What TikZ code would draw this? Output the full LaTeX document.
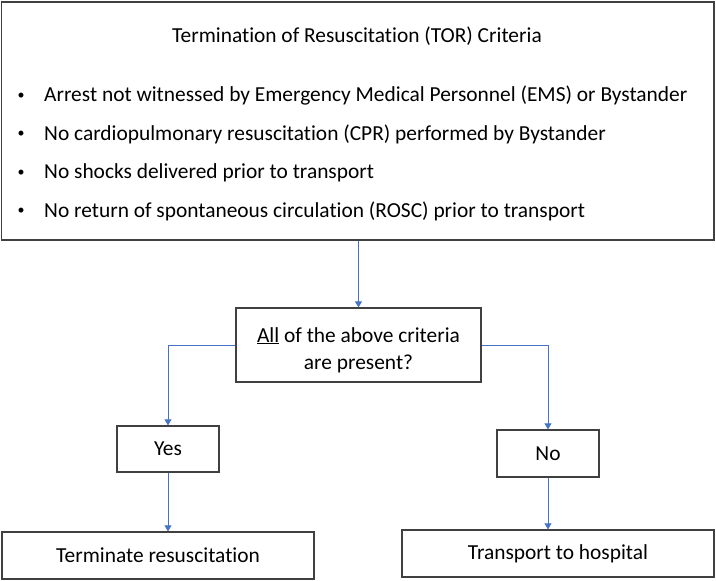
\documentclass[tikz,border=0pt]{standalone}
\usepackage{fontspec}
\setmainfont{Carlito}[Ligatures=NoCommon]
\usetikzlibrary{arrows.meta}
\definecolor{flowblue}{HTML}{4472C4}
\definecolor{boxgray}{HTML}{404040}
\tikzset{
    box/.style={draw=boxgray, line width=1.3pt, fill=white, align=center,
        inner sep=0pt, font=\fontsize{21.4}{27}\selectfont},
    txt/.style={inner sep=0pt, font=\fontsize{21.4}{26}\selectfont},
    flow/.style={draw=flowblue, line width=0.8pt,
        -{Triangle[width=7pt,length=6pt]}}
}
\newcommand{\lowered}[1]{\raisebox{-5pt}[\height][\depth]{#1}}
\begin{document}
\begin{tikzpicture}[x=1pt,y=-1pt]
                \useasboundingbox (0,0) rectangle (716,581);

                % boxes
                \node[box, minimum width=712.5pt, minimum height=238pt]
                    (tor) at (357.75,121) {};
                \node[box, minimum width=245pt, minimum height=74pt]
                    (check) at (358.5,345) {\lowered{\underline{All} of the above criteria}\\\lowered{are present?}};
                \node[box, minimum width=102pt, minimum height=46pt]
                    (yes) at (168,449) {Yes};
                \node[box, minimum width=102pt, minimum height=47pt]
                    (no) at (548,453.5) {No};
                \node[box, minimum width=312pt, minimum height=47pt]
                    (stop) at (158,555.5) {Terminate resuscitation};
                \node[box, minimum width=312pt, minimum height=47pt]
                    (transport) at (558,553.5) {Transport to hospital};

                % criteria text
                \node[txt] (title) at (357,36) {Termination of Resuscitation (TOR) Criteria};
                \foreach \y/\name/\crit in {
                    96/witness/{Arrest not witnessed by Emergency Medical Personnel (EMS) or Bystander},
                    134/cpr/{No cardiopulmonary resuscitation (CPR) performed by Bystander},
                    173/shock/{No shocks delivered prior to transport},
                    211/rosc/{No return of spontaneous circulation (ROSC) prior to transport}}
                {
                    \node[txt, font=\fontsize{14}{16}\selectfont] (dot-\name) at (21,\y) {\textbullet};
                    \node[txt, anchor=west] (\name) at (44,\y) {\crit};
                }

                % connectors
                \draw[flow] (tor.south -| check.north) -- (check.north);
                \draw[flow] (check.west) -| (yes.north);
                \draw[flow] (check.east) -| (no.north);
                \draw[flow] (yes.south) -- (yes.south |- stop.north);
                \draw[flow] (no.south) -- (no.south |- transport.north);
            \end{tikzpicture}
\end{document}
